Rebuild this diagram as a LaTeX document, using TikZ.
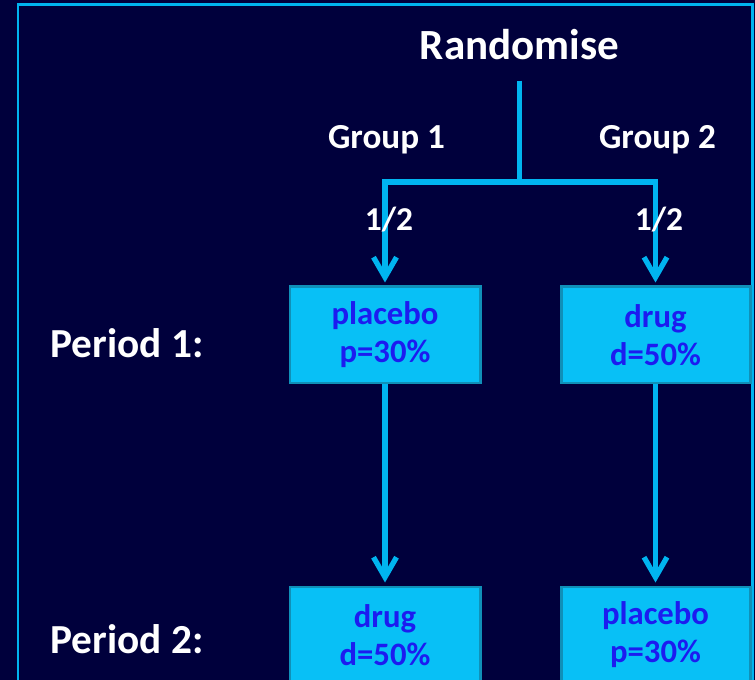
\documentclass[tikz,border=0pt]{standalone}
\usepackage{fontspec}
\setmainfont{Carlito}
\usepackage{xcolor}
\usepackage{tikz}
\usetikzlibrary{arrows.meta}

\definecolor{slidebg}{HTML}{00003C}
\definecolor{wire}{HTML}{00B4F0}
\definecolor{boxfill}{HTML}{08C0F6}
\definecolor{boxedge}{HTML}{1090B8}
\definecolor{boxtext}{HTML}{1C1CF0}

\begin{document}
\begin{tikzpicture}[
	wirearrow/.style={draw=wire, line width=3pt, -{Straight Barb[length=4mm, width=4.6mm, line width=3pt]}},
	armbox/.style={shape=rectangle, draw=boxedge, fill=boxfill, line width=1.7pt, minimum width=3.8cm, minimum height=1.92cm, align=center, text=boxtext, font=\fontsize{18.6}{21.6}\selectfont\bfseries},
	headtext/.style={text=white, font=\fontsize{20}{24}\selectfont\bfseries, inner sep=0},
	]
	% Background and frame:
	\useasboundingbox (0, 0) rectangle (15.1, 13.6);
	\fill[slidebg] (0, 0) rectangle (15.1, 13.6);
	\clip (0, 0) rectangle (15.1, 13.6);
	\draw[wire, line width=1.7pt] (0.36, -0.5) rectangle (15.04, 13.5);
	% Paths, nodes and wires:
	\node[text=white, font=\fontsize{24.5}{29}\selectfont\bfseries, inner sep=0] (Rand) at (10.39, 12.7) {Randomise};
	\coordinate (Split) at (10.39, 9.96);
	\node[headtext] (Grp1) at (7.73, 10.8) {Group 1};
	\node[headtext] (Grp2) at (13.15, 10.8) {Group 2};
	\node[armbox] (P1A) at (7.7, 6.9) {placebo\\p=30\%};
	\node[armbox, minimum width=3.78cm] (P1B) at (13.11, 6.9) {drug\\d=50\%};
	\node[armbox] (P2A) at (7.7, 0.9) {drug\\d=50\%};
	\node[armbox, minimum width=3.78cm] (P2B) at (13.11, 0.9) {placebo\\p=30\%};
	\draw[draw=wire, line width=3pt] (Rand.south) ++(0, -0.4) -- (Split);
	\draw[wirearrow] (Split) -| ([yshift=0.06cm]P1A.north);
	\draw[wirearrow] (Split) -| ([yshift=0.06cm]P1B.north);
	\draw[wirearrow] (P1A.south) -- ([yshift=0.06cm]P2A.north);
	\draw[wirearrow] (P1B.south) -- ([yshift=0.06cm]P2B.north);
	\node[headtext, font=\fontsize{19}{23}\selectfont\bfseries] (Half1) at (7.78, 9.2) {1/2};
	\node[headtext, font=\fontsize{19}{23}\selectfont\bfseries] (Half2) at (13.18, 9.2) {1/2};
	\node[text=white, font=\fontsize{23.5}{28}\selectfont\bfseries, inner sep=0] (Per1) at (2.54, 6.74) {Period 1:};
	\node[text=white, font=\fontsize{23.5}{28}\selectfont\bfseries, inner sep=0] (Per2) at (2.54, 0.82) {Period 2:};
\end{tikzpicture}
\end{document}
